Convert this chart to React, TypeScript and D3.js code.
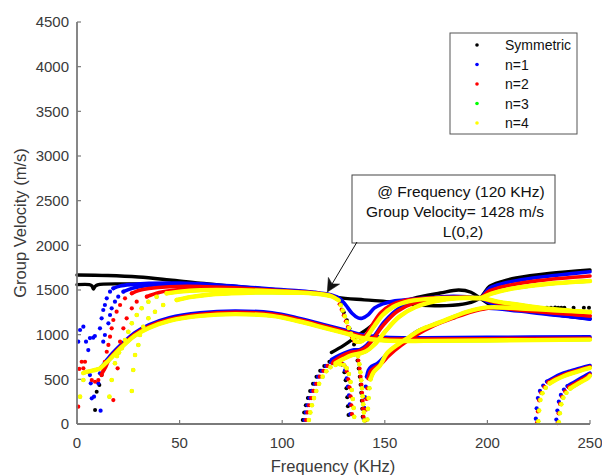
import React from "react";
import * as d3 from "d3";

type Pt = [number, number];

const xTicks = [0, 50, 100, 150, 200, 250];
const yTicks = [0, 500, 1000, 1500, 2000, 2500, 3000, 3500, 4000, 4500];
const legendLabels = ["Symmetric", "n=1", "n=2", "n=3", "n=4"];
const seriesColors = ["#000000", "#0000ff", "#ff0000", "#00ff00", "#ffff00"];
const annotationLines = ["@ Frequency (120 KHz)", "Group Velocity= 1428 m/s", "L(0,2)"];
const annotationTip: Pt = [122, 1478];

// ---------- Symmetric (black) ----------
const symTop: Pt[] = [[0,1668],[15,1662],[30,1645],[45,1612],[60,1575],[75,1545],[90,1515],[108,1483],[120,1455],[127,1418],[140,1390],[152,1368],[165,1335],[180,1325],[190,1350],[196.4,1410],[201,1540],[207,1595],[214,1634],[230,1685],[250,1724]];
const symSecond: Pt[] = [[0,1560],[6,1560],[7.3,1545],[8,1510],[8.8,1540],[10,1558],[25,1568],[45,1565],[60,1560]];
const symModeC: Pt[] = [[124,800],[130,880],[136,977],[144,1108],[151,1276],[157,1350],[164,1407],[177,1466],[186,1500],[192,1475],[196.4,1410],[202,1330],[215,1280],[232,1225],[250,1180]];
const symLowDots: Pt[] = [[8.8,157],[9.6,362],[10.9,437],[12,548]];
const symLoop: Pt[] = [[110,45],[110.7,130],[111.5,210],[112.5,290],[113.6,370],[115,450],[116.7,530],[118.5,595],[120.5,650],[123,697],[125,712],[127,716],[128.5,700],[129.5,660],[130.3,580],[130.9,490],[131.3,400],[131.7,300],[132,200],[132.3,100]];
const symDesc: Pt[] = [[128.5,1340],[130,1250],[131.5,1160],[132.8,1070],[134,980],[135,890],[136,800],[136.7,710],[137.3,620],[137.8,530],[138.2,440],[138.5,350],[138.8,260],[139,170],[139.2,80]];
const symDashes: Pt[] = [[229,1302],[231,1300],[233,1303],[234.5,1302],[236,1300],[237.5,1301],[242,1300],[247,1302],[249.5,1300]];

// ---------- n=1 (blue) ----------
const n1Band: Pt[] = [[17.7,1519],[21,1545],[27,1562],[35,1574],[50,1577],[65,1562],[80,1537],[95,1512],[108,1490],[118,1467],[124,1445],[128,1405],[131,1330],[134,1240],[137,1188],[139,1185],[142,1225],[145,1300],[149,1345],[155,1378],[165,1402],[180,1428],[190,1425],[196.4,1410],[201,1520],[208,1575],[220,1625],[235,1668],[250,1705]];
const n1BandB: Pt[] = [[22.6,1481],[27,1520],[35,1552],[50,1566],[65,1558]];
const n1Lower: Pt[] = [[12,641],[14,700],[16,760],[22,900],[28,1020],[35,1110],[45,1190],[60,1245],[77,1265],[95,1245],[108,1185],[120,1115],[130,1055],[140,995],[150,970],[170,965],[200,970],[250,975]];
const n1ModeC: Pt[] = [[124,720],[128,770],[132,810],[135,830],[138,835],[141,880],[145,990],[150,1150],[157,1295],[165,1370],[178,1415],[190,1420],[196.4,1410],[202,1350],[215,1290],[232,1230],[250,1172]];
const n1RiseLine: Pt[] = [[141.2,530],[142,600],[143.5,645],[146.5,680],[150.5,770],[156,880],[161,960],[166,1040],[176,1130],[189,1240],[199,1295],[215,1265],[232,1220],[250,1180]];
const n1Arc1Line: Pt[] = [[229,475],[232,515],[236,560],[240,590],[245,625],[250,655]];
const n1Arc2Line: Pt[] = [[239,425],[242,465],[245,505],[248,545],[250,570]];
const n1Scatter: Pt[] = [[0.6,921],[1.5,1052],[3.1,1090],[4.4,921],[5.5,828],[6.3,962],[7.9,966],[8.7,985],[6.3,548],[6.7,455],[7.2,287],[8.3,306],[10.4,455],[11.5,149],[11.2,567],[12,641]];
const n1ColA: Pt[] = [[11.2,1071],[12,1183],[12.8,1276],[13.6,1332],[14.5,1407],[16.1,1481],[17.7,1519]];
const n1ColB: Pt[] = [[12.8,921],[13.6,996],[15.3,1127],[16.1,1220],[16.9,1295],[18.5,1369],[20.1,1425],[22.6,1481]];
const n1Loop: Pt[] = [[110.8,45],[111.5,130],[112.3,210],[113.3,290],[114.4,370],[115.8,450],[117.5,530],[119.3,595],[121.3,650],[123.8,690],[126,705],[128,700],[129.5,670],[130.6,600],[131.4,510],[132,420],[132.5,320],[132.9,220],[133.2,110]];
const n1RiseDots: Pt[] = [[139.7,60],[140,180],[140.3,300],[140.7,420],[141.2,530]];
const n1Arc1Dots: Pt[] = [[223.6,60],[224,175],[224.6,290],[225.6,370],[227.2,430],[229,475]];
const n1Arc2Dots: Pt[] = [[233.6,50],[234.1,150],[234.8,250],[235.8,325],[237.3,385],[239,425]];

// ---------- n=2 (red) ----------
const n2Band: Pt[] = [[26.7,1463],[30,1495],[35,1517],[45,1537],[60,1540],[80,1520],[95,1500],[108,1482],[118,1462],[124,1437],[127,1395]];
const n2BandDip: Pt[] = [[135.5,925],[137,915],[139,945],[141,1005],[144,1115],[148,1245],[153,1330],[160,1385],[175,1415],[190,1418],[196.4,1410],[201,1490],[210,1550],[225,1605],[250,1657]];
const n2BandB: Pt[] = [[34,1425],[40,1472],[50,1505],[65,1520],[80,1515]];
const n2Lower: Pt[] = [[12,560],[14,640],[16,735],[22,880],[28,1003],[35,1093],[45,1172],[60,1228],[77,1250],[95,1230],[108,1170],[120,1100],[130,1040],[140,980],[150,955],[170,950],[200,955],[250,960]];
const n2ModeC: Pt[] = [[125,700],[129,760],[133,800],[137,815],[140,845],[144,940],[149,1100],[156,1260],[164,1350],[178,1405],[190,1415],[196.4,1410],[202,1370],[215,1310],[232,1255],[250,1209]];
const n2RiseLine: Pt[] = [[142,510],[143,590],[145,630],[148,670],[152,765],[158,880],[165,990],[174,1100],[184,1190],[193,1260],[202,1300],[217,1270],[233,1240],[250,1212]];
const n2Arc1Line: Pt[] = [[229.7,465],[232.7,505],[236.7,548],[240.7,580],[245.5,612],[250,640]];
const n2Arc2Line: Pt[] = [[239.7,410],[242.7,452],[245.7,492],[248.5,530],[250,555]];
const n2Scatter: Pt[] = [[0.6,194],[1.1,616],[2.3,697],[3.9,697],[3.1,623],[5.5,585],[7.2,492],[8.8,473],[10.4,492],[12,548],[17.7,268],[19.8,623]];
const n2ColA: Pt[] = [[12.8,604],[13.6,697],[14.5,809],[15.3,885],[16.1,977],[16.9,1071],[17.7,1164],[19.3,1257],[21,1332],[23.4,1407],[26.7,1463]];
const n2ColB: Pt[] = [[19.3,772],[21,921],[22.6,1071],[24.2,1183],[26.7,1295],[29.1,1369],[34,1425]];
const n2DipDots: Pt[] = [[128,1340],[129,1280],[130,1215],[131,1150],[132,1085],[133,1020],[134,965],[135,930]];
const n2Loop: Pt[] = [[111.6,45],[112.3,130],[113.1,210],[114.1,290],[115.2,370],[116.6,450],[118.3,530],[120.1,595],[122.1,650],[124.6,680],[126.8,690],[128.8,685],[130.3,655],[131.4,590],[132.2,500],[132.8,410],[133.3,310],[133.7,210],[134,110]];
const n2Desc: Pt[] = [[136.5,800],[137.1,710],[137.7,620],[138.2,530],[138.6,440],[138.9,350],[139.2,260],[139.4,170],[139.6,80]];
const n2RiseDots: Pt[] = [[140.5,40],[140.8,160],[141.1,280],[141.5,400],[142,510]];
const n2Arc1Dots: Pt[] = [[224.2,15],[224.6,140],[225.2,265],[226.2,350],[227.8,415],[229.7,465]];
const n2Arc2Dots: Pt[] = [[234.2,10],[234.7,120],[235.4,225],[236.4,305],[237.9,365],[239.7,410]];

// ---------- n=4 (yellow); n=3 (green) lies beneath it ----------
const n4Band: Pt[] = [[43.7,1463],[50,1482],[60,1497],[80,1497],[95,1487],[108,1472],[118,1455],[124,1430],[127.5,1385]];
const n4BandDip: Pt[] = [[136,925],[138,920],[140,945],[142,1000],[145,1100],[149,1220],[154,1310],[162,1375],[175,1405],[190,1410],[196.4,1410],[202,1460],[212,1515],[228,1565],[250,1600]];
const n4BandB: Pt[] = [[48.6,1388],[55,1420],[65,1450],[80,1467],[95,1472],[108,1468]];
const n4Lower: Pt[] = [[3,570],[5,585],[8,600],[11,620],[13,660],[16,725],[22,865],[28,985],[35,1075],[45,1155],[60,1210],[77,1230],[95,1210],[108,1150],[120,1080],[130,1020],[140,960],[150,935],[170,930],[200,935],[250,945]];
const n4ModeC: Pt[] = [[126,680],[130,730],[134,770],[138,790],[141,815],[145,890],[150,1030],[157,1200],[165,1310],[180,1395],[196.4,1410],[205,1370],[220,1320],[235,1280],[250,1250]];
const n4RiseLine: Pt[] = [[143,500],[144.5,580],[147.7,655],[151,790],[157,900],[162,975],[167,1050],[177,1140],[190,1255],[200,1305],[215,1295],[232,1272],[250,1255]];
const n4Arc1Line: Pt[] = [[230.4,455],[233.4,495],[237.4,537],[241.4,570],[246,602],[250,628]];
const n4Arc2Line: Pt[] = [[240.4,398],[243.4,440],[246.4,480],[249,515],[250,540]];
const n4Scatter: Pt[] = [[1.5,306],[3.1,493],[15.8,306],[16.9,493],[18.5,680],[26.7,369],[27.4,604]];
const n4ColA: Pt[] = [[19.5,760],[20.5,800],[21.8,847],[23.4,940],[25,1033],[26.7,1127],[29.1,1220],[31.5,1295],[34.8,1369],[38.8,1425],[43.7,1463]];
const n4ColB: Pt[] = [[28.3,772],[29.9,884],[30.7,996],[32.3,1089],[34.8,1183],[38,1257],[42,1332],[48.6,1388]];
const n4DipDots: Pt[] = [[128.5,1330],[129.5,1270],[130.5,1205],[131.5,1140],[132.5,1075],[133.5,1010],[134.5,960],[135.5,930]];
const n4Loop: Pt[] = [[113,45],[113.7,130],[114.5,210],[115.5,290],[116.6,370],[118,450],[119.7,530],[121.5,590],[123.5,635],[126,660],[128.2,668],[130,660],[131.4,625],[132.5,560],[133.3,470],[133.9,380],[134.4,280],[134.8,180],[135.1,80]];
const n4Desc: Pt[] = [[137,760],[137.6,670],[138.1,580],[138.5,490],[138.9,400],[139.2,310],[139.5,220],[139.8,130],[140,40]];
const n4RiseDots: Pt[] = [[141.5,50],[141.8,170],[142.1,290],[142.5,400],[143,500]];
const n4Arc1Dots: Pt[] = [[224.8,30],[225.2,150],[225.8,270],[226.8,345],[228.4,405],[230.4,455]];
const n4Arc2Dots: Pt[] = [[234.8,20],[235.3,120],[236,220],[237,295],[238.5,350],[240.4,398]];

const symLines = [symTop, symSecond, symModeC];
const symDots = [symLowDots, symLoop, symDesc, symDashes];
const n1Lines = [n1Band, n1BandB, n1Lower, n1ModeC, n1RiseLine, n1Arc1Line, n1Arc2Line];
const n1Dots = [n1Scatter, n1ColA, n1ColB, n1Loop, n1RiseDots, n1Arc1Dots, n1Arc2Dots];
const n2Lines = [n2Band, n2BandDip, n2BandB, n2Lower, n2ModeC, n2RiseLine, n2Arc1Line, n2Arc2Line];
const n2Dots = [n2Scatter, n2ColA, n2ColB, n2DipDots, n2Loop, n2Desc, n2RiseDots, n2Arc1Dots, n2Arc2Dots];
const n4Lines = [n4Band, n4BandDip, n4BandB, n4Lower, n4ModeC, n4RiseLine, n4Arc1Line, n4Arc2Line];
const n4Dots = [n4Scatter, n4ColA, n4ColB, n4DipDots, n4Loop, n4Desc, n4RiseDots, n4Arc1Dots, n4Arc2Dots];
const n3Lines = n4Lines;
const n3Dots = n4Dots;

const FONT = "'Liberation Sans', Arial, Helvetica, sans-serif";

export default function App() {
  const W = 602, H = 476;
  const x = d3.scaleLinear().domain([0, 250]).range([77, 590]);
  const y = d3.scaleLinear().domain([0, 4500]).range([424, 22]);
  const line = d3.line<Pt>().x(d => x(d[0])).y(d => y(d[1])).curve(d3.curveCatmullRom.alpha(0.5));

  const series = [
    { lines: symLines, dots: symDots, width: 3.4, r: 2.0 },
    { lines: n1Lines, dots: n1Dots, width: 3.6, r: 2.1 },
    { lines: n2Lines, dots: n2Dots, width: 3.6, r: 2.1 },
    { lines: n3Lines, dots: n3Dots, width: 3.4, r: 2.0 },
    { lines: n4Lines, dots: n4Dots, width: 4.4, r: 2.3 },
  ];

  const axisColor = "#7a7a7a";
  const textColor = "#3a3a3a";

  // annotation arrow geometry
  const tipX = x(annotationTip[0]);
  const tipY = y(annotationTip[1]);
  const boxX = 352, boxY = 175, boxW = 203, boxH = 68;
  const sx = 357, sy = boxY + boxH - 1;
  const dx = tipX - sx, dy = tipY - sy;
  const len = Math.hypot(dx, dy);
  const ux = dx / len, uy = dy / len;
  const nx = -uy, ny = ux;
  const L = 13, hw = 6.5;
  const bx = tipX - ux * L, by = tipY - uy * L;
  const head = [
    [tipX, tipY],
    [bx + nx * hw, by + ny * hw],
    [tipX - ux * L * 0.72, tipY - uy * L * 0.72],
    [bx - nx * hw, by - ny * hw],
  ].map(p => p.join(",")).join(" ");

  const lineCenters = [461, 455, 463];

  return (
    <svg width={W} height={H} style={{ position: "absolute", left: 0, top: 0, background: "#fff" }} fontFamily={FONT}>
      <rect x={0} y={0} width={W} height={H} fill="#ffffff" />
      {/* data */}
      <g>
        {series.map((s, si) => (
          <g key={si}>
            {s.lines.map((pts, li) => (
              <path key={"l" + li} d={line(pts) || ""} fill="none" stroke={seriesColors[si]}
                strokeWidth={s.width} strokeLinecap="round" strokeLinejoin="round" />
            ))}
            {s.dots.map((pts, di) => (
              <g key={"d" + di}>
                {pts.map((p, pi) => (
                  <circle key={pi} cx={x(p[0])} cy={y(p[1])} r={s.r} fill={seriesColors[si]} />
                ))}
              </g>
            ))}
          </g>
        ))}
      </g>

      {/* axes */}
      <g>
        <line x1={x(0)} x2={x(0)} y1={y(4500)} y2={y(0)} stroke={axisColor} strokeWidth={1.8} />
        <line x1={x(0)} x2={x(250)} y1={y(0)} y2={y(0)} stroke={axisColor} strokeWidth={1.8} />
        {yTicks.map(t => (
          <g key={"y" + t}>
            <line x1={x(0)} x2={x(0) + 4} y1={y(t)} y2={y(t)} stroke={axisColor} strokeWidth={1.2} />
            <text x={x(0) - 8} y={y(t)} dy="0.36em" textAnchor="end" fontSize={15} fill={textColor}>{t}</text>
          </g>
        ))}
        {xTicks.map(t => (
          <g key={"x" + t}>
            <line x1={x(t)} x2={x(t)} y1={y(0)} y2={y(0) - 4} stroke={axisColor} strokeWidth={1.2} />
            <text x={x(t)} y={448} textAnchor="middle" fontSize={15} fill={textColor}>{t}</text>
          </g>
        ))}
        <text x={333} y={472} textAnchor="middle" fontSize={16.5} fill={textColor}>Frequency (KHz)</text>
        <text transform={`translate(26,${(y(0) + y(4500)) / 2}) rotate(-90)`} textAnchor="middle" fontSize={16.5} fill={textColor}>Group Velocity (m/s)</text>
      </g>

      {/* legend */}
      <g>
        <rect x={450} y={33} width={127} height={101} fill="#ffffff" stroke="#555" strokeWidth={1} />
        {legendLabels.map((lab, i) => (
          <g key={lab}>
            <circle cx={477} cy={45 + i * 19.5} r={1.8} fill={seriesColors[i]} />
            <text x={505} y={45 + i * 19.5} dy="0.36em" fontSize={14} fill="#111">{lab}</text>
          </g>
        ))}
      </g>

      {/* annotation */}
      <g>
        <rect x={boxX} y={boxY} width={boxW} height={boxH} fill="#ffffff" stroke="#444" strokeWidth={1} />
        {annotationLines.map((t, i) => (
          <text key={i} x={lineCenters[i]} y={boxY + 16.7 + i * 20} dy="0.36em" textAnchor="middle" fontSize={15.5} fill="#111">{t}</text>
        ))}
        <line x1={sx} y1={sy} x2={tipX - ux * L * 0.7} y2={tipY - uy * L * 0.7} stroke="#111" strokeWidth={1} />
        <polygon points={head} fill="#111" stroke="#111" strokeWidth={0.6} />
      </g>
    </svg>
  );
}
